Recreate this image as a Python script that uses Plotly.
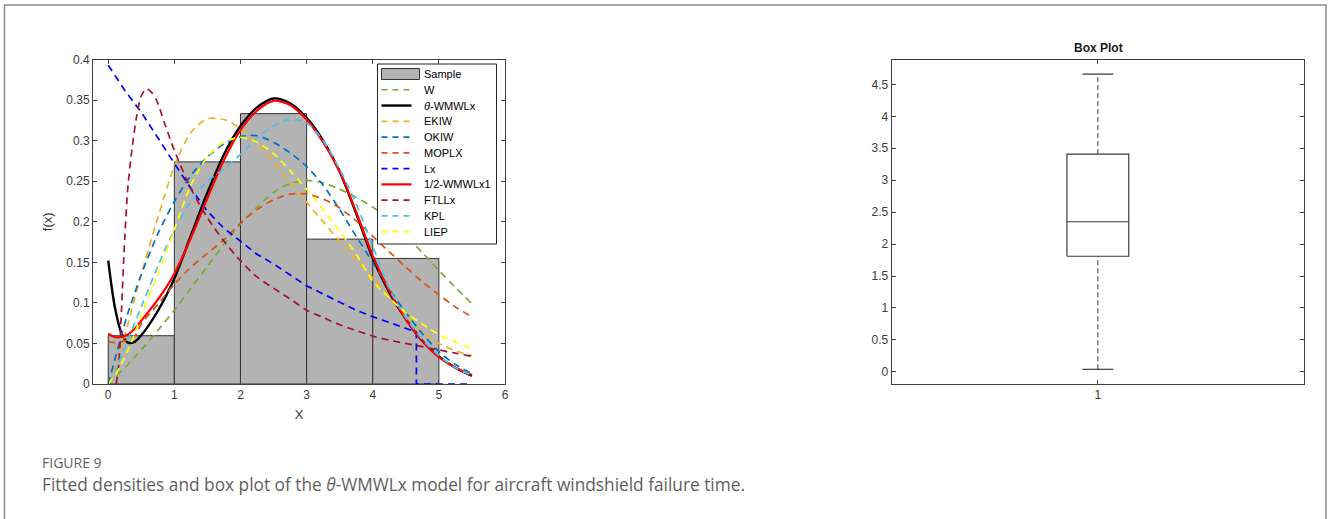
import plotly.graph_objects as go

W_PX, H_PX = 1328, 519

# ---------------- data ----------------
bin_centers = [0.5, 1.5, 2.5, 3.5, 4.5]
bin_heights = [0.0595, 0.2738, 0.3333, 0.1786, 0.1548]

x_std = [0, 0.1, 0.2, 0.3, 0.4, 0.5, 0.75, 1.0, 1.25, 1.5, 1.75, 2.0, 2.25, 2.5,
         2.75, 3.0, 3.25, 3.5, 3.75, 4.0, 4.25, 4.5, 4.75, 5.0, 5.25, 5.5]

theta_wmwlx = [0.152, 0.095, 0.063, 0.051, 0.052, 0.060, 0.090, 0.130, 0.183, 0.236, 0.283, 0.318,
               0.341, 0.352, 0.346, 0.328, 0.300, 0.262, 0.210, 0.155, 0.113, 0.080, 0.053,
               0.034, 0.020, 0.010]
half_wmwlx1 = [0.062, 0.058, 0.058, 0.061, 0.068, 0.078, 0.104, 0.136, 0.180, 0.229, 0.276, 0.313,
               0.337, 0.349, 0.344, 0.326, 0.298, 0.262, 0.212, 0.158, 0.115, 0.080, 0.053,
               0.033, 0.020, 0.011]
w_dist = [0.0, 0.008, 0.016, 0.024, 0.033, 0.042, 0.066, 0.091, 0.118, 0.145, 0.172, 0.197,
          0.218, 0.236, 0.247, 0.251, 0.248, 0.240, 0.230, 0.218, 0.203, 0.183, 0.162, 0.140,
          0.119, 0.099]
moplx = [0.052, 0.051, 0.052, 0.055, 0.059, 0.074, 0.098, 0.123, 0.144, 0.161, 0.178, 0.198,
         0.215, 0.227, 0.234, 0.234, 0.228, 0.217, 0.201, 0.182, 0.163, 0.144, 0.126, 0.110,
         0.095, 0.083]
ekiw = [0.0, 0.022, 0.045, 0.075, 0.105, 0.135, 0.205, 0.268, 0.310, 0.327, 0.326, 0.315,
        0.297, 0.274, 0.249, 0.224, 0.200, 0.176, 0.153, 0.131, 0.107, 0.085, 0.065, 0.050,
        0.041, 0.035]
okiw = [0.0, 0.030, 0.060, 0.088, 0.112, 0.135, 0.185, 0.225, 0.257, 0.280, 0.296, 0.305,
        0.306, 0.298, 0.285, 0.268, 0.245, 0.215, 0.182, 0.150, 0.117, 0.088, 0.062, 0.040,
        0.024, 0.013]
kpl = [0.0, 0.015, 0.035, 0.055, 0.075, 0.095, 0.145, 0.190, 0.225, 0.250, 0.265, 0.283,
       0.303, 0.318, 0.326, 0.322, 0.300, 0.265, 0.222, 0.170, 0.118, 0.082, 0.055, 0.035,
       0.020, 0.011]
liep = [0.0, 0.010, 0.025, 0.042, 0.062, 0.085, 0.135, 0.190, 0.245, 0.280, 0.298, 0.304,
        0.298, 0.284, 0.263, 0.240, 0.215, 0.188, 0.160, 0.127, 0.106, 0.088, 0.074, 0.061,
        0.052, 0.044]

lx_x = [0, 0.25, 0.5, 0.75, 1.0, 1.25, 1.5, 1.75, 2.0, 2.25, 2.5, 2.75, 3.0, 3.25, 3.5,
        3.75, 4.0, 4.25, 4.5, 4.66, 4.66, 5.5]
lx_y = [0.393, 0.362, 0.335, 0.303, 0.272, 0.241, 0.213, 0.192, 0.176, 0.160, 0.148, 0.134,
        0.121, 0.111, 0.101, 0.091, 0.083, 0.076, 0.069, 0.064, 0.0, 0.0]

ftllx_x = [0.12, 0.16, 0.2, 0.25, 0.3, 0.36, 0.43, 0.5, 0.58, 0.65, 0.73, 0.85, 1.0, 1.25,
           1.5, 1.75, 2.0, 2.25, 2.5, 2.75, 3.0, 3.25, 3.5, 3.75, 4.0, 4.25, 4.5, 4.75, 5.0,
           5.25, 5.5]
ftllx_y = [0.0, 0.025, 0.09, 0.18, 0.245, 0.29, 0.33, 0.355, 0.364, 0.360, 0.350, 0.322,
           0.288, 0.241, 0.205, 0.176, 0.152, 0.132, 0.118, 0.105, 0.091, 0.082, 0.073,
           0.066, 0.059, 0.054, 0.050, 0.046, 0.042, 0.038, 0.034]

left_xticks = [0, 1, 2, 3, 4, 5, 6]
left_yticks = [0, 0.05, 0.1, 0.15, 0.2, 0.25, 0.3, 0.35, 0.4]
left_yticktext = ["0", "0.05", "0.1", "0.15", "0.2", "0.25", "0.3", "0.35", "0.4"]

# box plot summary: min, Q1, median, Q3, max
box_min, box_q1, box_med, box_q3, box_max = 0.04, 1.81, 2.35, 3.41, 4.66
box_pos = 1
right_yticks = [0, 0.5, 1, 1.5, 2, 2.5, 3, 3.5, 4, 4.5]
right_yticktext = ["0", "0.5", "1", "1.5", "2", "2.5", "3", "3.5", "4", "4.5"]

# ---------------- styles ----------------
BOX_HALF = 0.075
CAP_HALF = 0.0375
AX_COL = "#404040"
TICK_FONT = dict(family="Arial, Liberation Sans", size=12, color="#3a3a3a")
DASH = "7px,5px"
BAR_FILL = "#b3b3b3"
BAR_EDGE = "#333333"


def px_x(p):
    return p / W_PX


def px_y(p):
    return 1 - p / H_PX


fig = go.Figure()

fig.add_trace(go.Bar(x=bin_centers, y=bin_heights, width=1, name="Sample",
                     marker=dict(color=BAR_FILL, line=dict(color=BAR_EDGE, width=1)),
                     xaxis="x", yaxis="y"))

curves = [
    ("W", x_std, w_dist, "#77AC30", DASH, 1.7),
    ("<i>θ</i>-WMWLx", x_std, theta_wmwlx, "#000000", "solid", 2.4),
    ("EKIW", x_std, ekiw, "#EDB120", DASH, 1.7),
    ("OKIW", x_std, okiw, "#0072BD", DASH, 1.7),
    ("MOPLX", x_std, moplx, "#D95319", DASH, 1.7),
    ("Lx", lx_x, lx_y, "#0000FF", DASH, 1.7),
    ("1/2-WMWLx1", x_std, half_wmwlx1, "#FF0000", "solid", 2.2),
    ("FTLLx", ftllx_x, ftllx_y, "#A2142F", DASH, 1.7),
    ("KPL", x_std, kpl, "#4DBEEE", DASH, 1.7),
    ("LIEP", x_std, liep, "#FFFF00", DASH, 1.7),
]
for name, xs, ys, col, dash, w in curves:
    shape = "linear" if name == "Lx" else "spline"
    fig.add_trace(go.Scatter(x=xs, y=ys, mode="lines", name=name,
                             line=dict(color=col, dash=dash, width=w, shape=shape,
                                       smoothing=0.8),
                             xaxis="x", yaxis="y"))

# ---------------- box plot (drawn from summary stats) ----------------
BOX_COL = "#3a3a3a"
fig.add_trace(go.Scatter(
    x=[box_pos - BOX_HALF, box_pos + BOX_HALF, box_pos + BOX_HALF, box_pos - BOX_HALF,
       box_pos - BOX_HALF],
    y=[box_q1, box_q1, box_q3, box_q3, box_q1], mode="lines",
    line=dict(color=BOX_COL, width=1.2), xaxis="x2", yaxis="y2"))
fig.add_trace(go.Scatter(x=[box_pos - BOX_HALF, box_pos + BOX_HALF], y=[box_med, box_med],
                         mode="lines", line=dict(color=BOX_COL, width=1.2),
                         xaxis="x2", yaxis="y2"))
for a, b in [(box_q3, box_max), (box_min, box_q1)]:
    fig.add_trace(go.Scatter(x=[box_pos, box_pos], y=[a, b], mode="lines",
                             line=dict(color=BOX_COL, width=1, dash="5px,3px"),
                             xaxis="x2", yaxis="y2"))
for v in [box_max, box_min]:
    fig.add_trace(go.Scatter(x=[box_pos - CAP_HALF, box_pos + CAP_HALF], y=[v, v],
                             mode="lines", line=dict(color=BOX_COL, width=1.2),
                             xaxis="x2", yaxis="y2"))

dom_y = [px_y(384), px_y(59.5)]
axis_common = dict(showline=True, linecolor=AX_COL, linewidth=1, mirror="ticks",
                   ticks="inside", ticklen=4, tickcolor=AX_COL, showgrid=False,
                   zeroline=False, tickfont=TICK_FONT, automargin=False)

fig.update_layout(
    template="none",
    width=W_PX, height=H_PX,
    margin=dict(l=0, r=0, t=0, b=0, pad=0, autoexpand=False),
    paper_bgcolor="white", plot_bgcolor="white",
    barmode="overlay",
    showlegend=False,
    xaxis=dict(domain=[px_x(93), px_x(505)], range=[-0.23, 6], tickvals=left_xticks,
               title=dict(text="X", font=dict(family="Arial", size=13, color="#3a3a3a"),
                          standoff=8),
               anchor="y", **axis_common),
    yaxis=dict(domain=dom_y, range=[0, 0.4], tickvals=left_yticks, ticktext=left_yticktext,
               title=dict(text="f(x)", font=dict(family="Arial", size=13, color="#3a3a3a"),
                          standoff=10),
               anchor="x", **axis_common),
    xaxis2=dict(domain=[px_x(891.7), px_x(1304)], range=[0.5, 1.5], tickvals=[box_pos],
                ticktext=["1"], anchor="y2", **axis_common),
    yaxis2=dict(domain=dom_y, range=[-0.19, 4.89], tickvals=right_yticks,
                ticktext=right_yticktext, anchor="x2", **axis_common),
)

# ---------------- legend box (drawn from the series list) ----------------
LEG_L, LEG_R, LEG_T, LEG_B = 377.5, 496.5, 64, 244
ROW0, ROW_H = 74, 15.77
SAMPLE_X0, SAMPLE_X1, TEXT_X = 381.5, 411.5, 421.5
LEG_FONT = dict(family="Arial", size=11, color="#000000")

fig.add_shape(type="rect", xref="paper", yref="paper",
              x0=px_x(LEG_L), x1=px_x(LEG_R), y0=px_y(LEG_B), y1=px_y(LEG_T),
              line=dict(color="#262626", width=1), fillcolor="white", layer="above")
legend_rows = [("Sample", None, None, None)] + [(n, c, d, w) for n, _, _, c, d, w in curves]
for i, (name, col, dash, w) in enumerate(legend_rows):
    yc = ROW0 + i * ROW_H
    if col is None:
        fig.add_shape(type="rect", xref="paper", yref="paper",
                      x0=px_x(SAMPLE_X0), x1=px_x(SAMPLE_X1 + 8),
                      y0=px_y(yc + 5.5), y1=px_y(yc - 5.5),
                      line=dict(color=BAR_EDGE, width=1), fillcolor=BAR_FILL, layer="above")
    else:
        fig.add_shape(type="line", xref="paper", yref="paper",
                      x0=px_x(SAMPLE_X0), x1=px_x(SAMPLE_X1), y0=px_y(yc), y1=px_y(yc),
                      line=dict(color=col, width=w,
                                dash=("6px,5px" if dash != "solid" else "solid")),
                      layer="above")
    fig.add_annotation(text=name, x=px_x(TEXT_X), y=px_y(yc), xref="paper", yref="paper",
                       xanchor="left", yanchor="middle", showarrow=False, font=LEG_FONT)

fig.add_annotation(text="<b>Box Plot</b>", x=px_x(1098), y=px_y(48), xref="paper", yref="paper",
                   xanchor="center", yanchor="middle", showarrow=False,
                   font=dict(family="Arial", size=12, color="#1a1a1a"))
fig.add_annotation(text="FIGURE 9", x=px_x(40), y=px_y(462), xref="paper", yref="paper",
                   xanchor="left", yanchor="middle", showarrow=False,
                   font=dict(family="Open Sans", size=14, color="#5f5f5f"))
fig.add_annotation(text="Fitted densities and box plot of the <i>θ</i>-WMWLx model for aircraft windshield failure time.",
                   x=px_x(40), y=px_y(484), xref="paper", yref="paper",
                   xanchor="left", yanchor="middle", showarrow=False,
                   font=dict(family="Open Sans", size=17.3, color="#5f5f5f"))

fig.add_shape(type="rect", xref="paper", yref="paper",
              x0=px_x(4.5), x1=px_x(1326), y0=px_y(540), y1=px_y(5),
              line=dict(color="#8a8a8a", width=1.5), fillcolor="rgba(0,0,0,0)")

fig.write_html("out.html")
